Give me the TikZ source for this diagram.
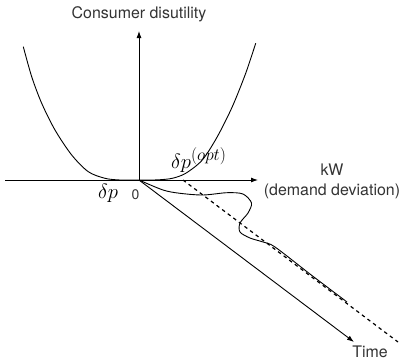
\documentclass[tikz,border=0pt]{standalone}
\usepackage{fontspec}
\newfontfamily\labelfont{TeX Gyre Heros}
\usetikzlibrary{arrows.meta}
\DeclareMathSizes{22}{22}{18}{14}
\begin{document}
\begin{tikzpicture}[x=1bp,y=-1bp,
  axis/.style={line width=0.9bp, -{Latex[length=7bp,width=5bp]}},
  curve/.style={line width=0.9bp},
  dashline/.style={line width=1.2bp, dash pattern=on 3.5bp off 3.5bp},
  lbl/.style={font=\labelfont\fontsize{16}{20}\selectfont, text=black!80, inner sep=0pt, align=center},
  mathlbl/.style={font=\fontsize{22}{26}\selectfont, inner sep=0pt}]
\useasboundingbox (0,0) rectangle (405,361);
\coordinate (O) at (139,180);
\coordinate (xl) at (5,180);
\coordinate (xr) at (258,180);
\coordinate (yt) at (139,31);
\coordinate (tt) at (354,342);
\coordinate (ds) at (183,180);
\coordinate (de) at (398,342);
% axes
\draw[axis] (xl) -- (xr);
\draw[axis] (O) -- (yt);
\draw[axis] (O) -- (tt);
% dashed optimal line
\draw[dashline] (ds) -- (de);
% disutility curve
\draw[curve] plot[smooth] coordinates {(23.3,46.7) (31.7,76.7) (41.7,103.3) (55,130) (71.7,155) (88.3,171.7) (105,178.3) (120,180) (139,180)};
\draw[curve] plot[smooth] coordinates {(139,180) (150,180) (159,179.8) (172.3,178.3) (185.7,173.3) (202.3,160) (217.3,136.7) (232.3,106.7) (245.7,73.3) (255.7,43.3)};
% trajectory
\draw[curve] plot[smooth] coordinates {(139,180) (163,190) (180,193.3) (203,195) (227,192.7) (243,194) (251.5,203) (248,213) (240,223) (240,232) (250,238) (263,242) (275,247) (311,274.8) (347,302)};
% labels
\node[lbl] (title) at (139,14) {Consumer disutility};
\node[lbl] (kw) at (332,181) {kW\\(demand deviation)};
\node[lbl] (time) at (370,352) {Time};
\node[lbl, font=\labelfont\fontsize{14}{16}\selectfont] (zero) at (135.5,194.7) {0};
\node[mathlbl, anchor=base west] (dp) at (98,198.3) {$\delta p$};
\node[mathlbl, anchor=base west] (dpopt) at (171,168.3) {$\delta p^{(opt)}$};
\end{tikzpicture}
\end{document}
